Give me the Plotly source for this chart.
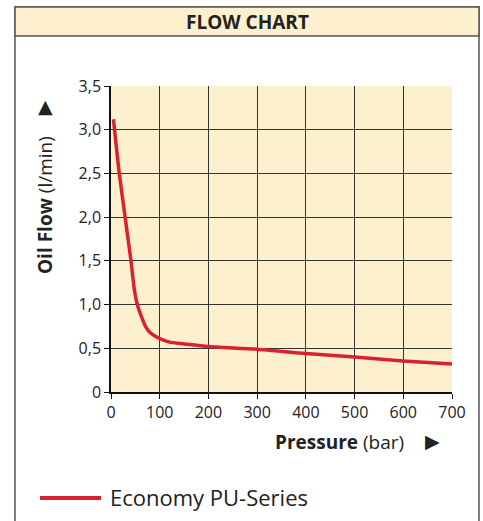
import plotly.graph_objects as go

# ---- data ----
pressure = [5, 17, 29, 41, 48, 54, 62, 70, 80, 90, 100, 120, 150, 200, 300, 400, 500, 600, 700]
oil_flow = [3.12, 2.5, 2.0, 1.5, 1.17, 1.0, 0.87, 0.76, 0.68, 0.64, 0.61, 0.57, 0.55, 0.52, 0.49, 0.44, 0.40, 0.355, 0.32]
series_name = "Economy PU-Series"
x_ticks = [0, 100, 200, 300, 400, 500, 600, 700]
x_tick_labels = ["0", "100", "200", "300", "400", "500", "600", "700"]
y_ticks = [0, 0.5, 1.0, 1.5, 2.0, 2.5, 3.0, 3.5]
y_tick_labels = ["0", "0,5", "1,0", "1,5", "2,0", "2,5", "3,0", "3,5"]

W, H = 483, 521
L, R, T, B = 111, 452, 86, 392
FONT = "Open Sans"
CREAM = "#fdf0cf"
RED = "#d8232f"
TXT = "#222222"

def px(x):
    return (x - L) / (R - L)

def py(y):
    return (B - y) / (B - T)

fig = go.Figure()
fig.add_trace(go.Scatter(
    x=pressure, y=oil_flow, mode="lines", name=series_name,
    line=dict(color=RED, width=3.5, shape="spline", smoothing=0.6),
    showlegend=False,
))

shapes = [
    dict(type="rect", xref="paper", yref="paper", x0=px(15), x1=px(479), y0=py(540), y1=py(7),
         line=dict(color="#555555", width=1.5), fillcolor="rgba(0,0,0,0)", layer="below"),
    dict(type="rect", xref="paper", yref="paper", x0=px(15), x1=px(479), y0=py(36), y1=py(7),
         line=dict(color="#555555", width=1.5), fillcolor=CREAM, layer="below"),
    dict(type="line", xref="paper", yref="paper", x0=px(40), x1=px(101), y0=py(498), y1=py(498),
         line=dict(color=RED, width=4)),
]

def ann(text, x, y, size, anchor="center", angle=0, family=FONT):
    return dict(text=text, xref="paper", yref="paper", x=px(x), y=py(y), showarrow=False,
                textangle=angle, font=dict(family=family, size=size, color=TXT),
                xanchor=anchor, yanchor="middle")

annotations = [
    ann("<b>FLOW CHART</b>", 247.5, 22, 19),
    ann("<b>Oil Flow</b> (l/min)", 45, 205, 19, angle=-90),
    ann("▲", 45, 106, 19, family="DejaVu Sans"),
    ann("<b>Pressure</b> (bar)", 339, 442, 19),
    ann("▶", 432, 441, 19, family="DejaVu Sans"),
    ann(series_name, 108, 497, 22, anchor="left"),
]

fig.update_layout(
    width=W, height=H,
    margin=dict(l=L, r=W - R, t=T, b=H - B),
    paper_bgcolor="white", plot_bgcolor=CREAM,
    shapes=shapes, annotations=annotations,
    font=dict(family=FONT, size=16, color=TXT),
)
axis_common = dict(
    showgrid=True, gridcolor="#333333", gridwidth=1,
    showline=True, linecolor="#111111", linewidth=1.5, mirror=False,
    ticks="outside", ticklen=5, tickcolor="#111111", zeroline=False,
    tickfont=dict(family=FONT, size=16, color=TXT),
)
fig.update_xaxes(range=[0, 700], tickvals=x_ticks, ticktext=x_tick_labels, **axis_common)
fig.update_yaxes(range=[0, 3.5], tickvals=y_ticks, ticktext=y_tick_labels, **axis_common)
fig.write_html(
    "out.html",
    config={"displayModeBar": False},
    post_script="document.body.style.margin='0px';document.body.style.overflow='hidden';",
)
